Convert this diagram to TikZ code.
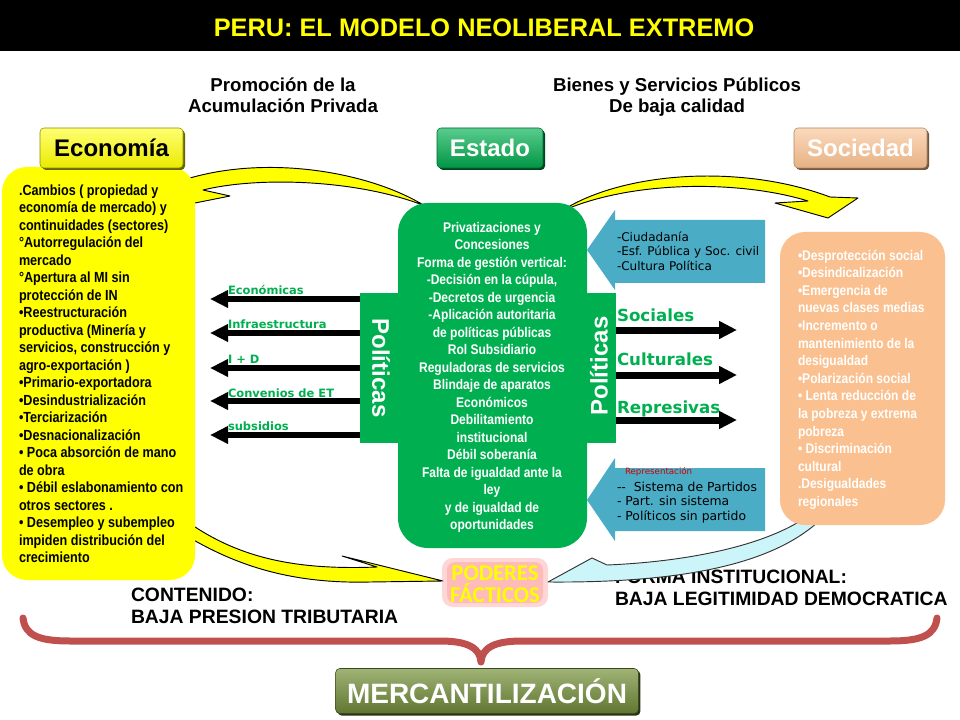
\documentclass[tikz,border=0pt]{standalone}
\usepackage{fontspec}
\setmainfont{Liberation Sans}
\newfontfamily\narrowfont[FakeStretch=0.86]{Liberation Sans}
\newfontfamily\dvfont{DejaVu Sans}
\newfontfamily\carlitofont{Carlito}
\usetikzlibrary{arrows.meta,shadows}
\definecolor{cYel}{RGB}{255,255,0}
\definecolor{cGreen}{RGB}{0,176,80}
\definecolor{cPeach}{RGB}{250,192,143}
\definecolor{cBlue}{RGB}{75,172,198}
\definecolor{cBrace}{RGB}{192,80,77}
\definecolor{cOlive}{RGB}{119,147,60}
\definecolor{cCyan}{RGB}{204,245,250}
\definecolor{cRed}{RGB}{210,0,0}
\tikzset{
  txt/.style={inner sep=0pt, outer sep=0pt},
  head/.style={txt, font=\bfseries\fontsize{14}{16}\selectfont},
  bigtxt/.style={txt, font=\bfseries\fontsize{14.5}{17}\selectfont},
  btn/.style={rounded corners=3pt, inner sep=0pt, minimum height=30pt,
    font=\bfseries\fontsize{18}{20}\selectfont},
  panel/.style={inner sep=0pt, outer sep=0pt},
  curvearrow/.style={fill=cYel, draw=black, line width=0.7pt, line join=round},
  larrow/.style={line width=4.5pt, -{Triangle[length=13.5pt,width=12.5pt]}},
  rarrow/.style={line width=5.25pt, -{Triangle[length=13.5pt,width=12.75pt]}},
  llabel/.style={txt, anchor=base west, text=cGreen, font=\dvfont\bfseries\fontsize{8.6}{10}\selectfont},
  rlabel/.style={txt, anchor=base west, text=cGreen, font=\dvfont\bfseries\fontsize{12.5}{14}\selectfont},
  bluetxt/.style={txt, anchor=base west, font=\dvfont\fontsize{9}{11}\selectfont},
  polit/.style={txt, text=white, font=\bfseries\fontsize{18}{20}\selectfont},
  podtxt/.style={txt, anchor=base, text=cYel, font=\carlitofont\bfseries\fontsize{17}{19}\selectfont},
}
\begin{document}
\begin{tikzpicture}[x=0.75pt,y=-0.75pt]
\useasboundingbox (0,0) rectangle (960,720);
\fill[white] (0,0) rectangle (960,720);
% title bar
\fill[black] (0,0) rectangle (960,51);
\node[txt, anchor=base, text=cYel, font=\bfseries\fontsize{19}{22}\selectfont] (title) at (484,37) {PERU: EL MODELO NEOLIBERAL EXTREMO};
% headings
\node[head, anchor=base] (h1) at (283,92) {Promoción de la};
\node[head, anchor=base] (h2) at (283,113) {Acumulación Privada};
\node[head, anchor=base] (h3) at (677,92) {Bienes y Servicios Públicos};
\node[head, anchor=base] (h4) at (677,113) {De baja calidad};
% curved yellow arrows (behind boxes)
\draw[curvearrow] (425,206) .. controls (370,172) and (270,155) .. (190,178)
   -- (172,184) -- (180,206) -- (230,196) -- (203,190)
   .. controls (260,176) and (360,180) .. (425,206) -- cycle;
\draw[curvearrow] (560,212) .. controls (620,172) and (740,163) .. (830,197)
   -- (858,198) -- (828,218) -- (775,203) -- (808,201)
   .. controls (740,180) and (630,180) .. (560,212) -- cycle;
\draw[curvearrow] (185,520) .. controls (240,560) and (300,570) .. (377,567)
   -- (342,556) -- (443,581) -- (370,582)
   .. controls (290,584) and (235,565) .. (185,535) -- cycle;
% left yellow panel
\node[panel, fill=cYel, rounded corners=18.75pt, minimum width=144.75pt, minimum height=309.75pt] (ecobox) at (98.5,373.5) {};
\node[txt, anchor=north west, align=left, font=\narrowfont\bfseries\fontsize{11}{13.125}\selectfont] (ecotext) at (19,183.25)
{\rule{0pt}{9pt}.Cambios ( propiedad  y\\
economía de mercado) y\\
continuidades (sectores)\\
°Autorregulación del\\
mercado\\
°Apertura al MI sin\\
protección de IN\\
•Reestructuración\\
productiva (Minería y\\
servicios, construcción  y\\
agro-exportación )\\
•Primario-exportadora\\
•Desindustrialización\\
•Terciarización\\
•Desnacionalización\\
• Poca absorción de  mano\\
de obra\\
• Débil eslabonamiento con\\
otros sectores .\\
• Desempleo y subempleo\\
impiden  distribución del\\
crecimiento};
% central green panel with side bars
\node[panel, fill=cGreen, minimum width=30pt, minimum height=112.5pt] (polL) at (380,368) {};
\node[panel, fill=cGreen, minimum width=24pt, minimum height=112.5pt] (polR) at (600,368) {};
\node[panel, fill=cGreen, rounded corners=22.5pt, minimum width=141.75pt, minimum height=258.75pt] (estbox) at (492.5,375.5) {};
\node[txt, anchor=north, align=center, text=white, font=\narrowfont\bfseries\fontsize{10.5}{13.125}\selectfont] (esttext) at (492,220)
{\rule{0pt}{9pt}Privatizaciones y\\
Concesiones\\
Forma de gestión vertical:\\
-Decisión en  la cúpula,\\
-Decretos de urgencia\\
-Aplicación autoritaria\\
de políticas públicas\\
Rol Subsidiario\\
Reguladoras de servicios\\
Blindaje de aparatos\\
Económicos\\
Debilitamiento\\
institucional\\
Débil soberanía\\
Falta de igualdad ante la\\
ley\\
y de igualdad de\\
oportunidades};
\node[polit, rotate=-90] (polLt) at (381,368) {Políticas};
\node[polit, rotate=90] (polRt) at (599,366) {Políticas};
% buttons
\node[btn, minimum width=107.25pt, top color=cYel!55!white, bottom color=cYel!92!black, draw=cYel!55!black, text=black,
  drop shadow={shadow xshift=1.5pt, shadow yshift=-1.5pt, fill=cYel!40!black, opacity=1}] (economia) at (111.5,148) {Economía};
\node[btn, minimum width=79.5pt, top color=cGreen!65!white, bottom color=cGreen!85!black, draw=cGreen!60!black, text=white,
  drop shadow={shadow xshift=1.5pt, shadow yshift=-1.5pt, fill=cGreen!40!black, opacity=1}] (estado) at (490,148) {Estado};
\node[btn, minimum width=99.75pt, top color=cPeach!60!white, bottom color=cPeach!92!black, draw=cPeach!70!black, text=white,
  drop shadow={shadow xshift=1.5pt, shadow yshift=-1.5pt, fill=cPeach!45!black, opacity=1}] (sociedad) at (860.5,148) {Sociedad};
% left arrows
\coordinate (eL1) at (210,299);
\coordinate (eL2) at (210,333);
\coordinate (eL3) at (210,368);
\coordinate (eL4) at (210,401);
\coordinate (eL5) at (210,435);
\foreach \i in {1,...,5} {\draw[larrow] (polL.west |- eL\i) -- (eL\i);}
\node[llabel] (l1) at (228,295) {Económicas};
\node[llabel] (l2) at (228,329) {Infraestructura};
\node[llabel] (l3) at (228,363) {I + D};
\node[llabel] (l4) at (228,397) {Convenios de ET};
\node[llabel] (l5) at (228,430) {subsidios};
% right arrows
\coordinate (eR1) at (737,330);
\coordinate (eR2) at (737,375);
\coordinate (eR3) at (737,420);
\foreach \i in {1,2,3} {\draw[rarrow] (polR.east |- eR\i) -- (eR\i);}
\node[rlabel] (r1) at (617,321) {Sociales};
\node[rlabel] (r2) at (617,365) {Culturales};
\node[rlabel] (r3) at (617,413) {Represivas};
% blue block arrows
\fill[cBlue] (587,250) -- (615,210) -- (615,220) -- (765,220) -- (765,283) -- (615,283) -- (615,290) -- cycle;
\node[bluetxt] (b1) at (617,242) {-Ciudadanía};
\node[bluetxt] (b2) at (617,256) {-Esf. Pública y Soc. civil};
\node[bluetxt] (b3) at (617,271) {-Cultura Política};
\fill[cBlue] (587,500) -- (615,458) -- (615,468) -- (765,468) -- (765,531) -- (615,531) -- (615,541) -- cycle;
\node[bluetxt, text=cRed, font=\dvfont\fontsize{6.5}{8}\selectfont] (b4) at (625,474) {Representación};
\node[bluetxt, font=\dvfont\fontsize{9.3}{11}\selectfont] (b5) at (617,491) {-{}-~ Sistema de Partidos};
\node[bluetxt, font=\dvfont\fontsize{9.3}{11}\selectfont] (b6) at (617,505) {- Part. sin sistema};
\node[bluetxt, font=\dvfont\fontsize{9.3}{11}\selectfont] (b7) at (617,520) {- Políticos sin partido};
% bottom texts
\node[bigtxt, anchor=base west] (c1) at (131,601) {CONTENIDO:};
\node[bigtxt, anchor=base west] (c2) at (131,623) {BAJA PRESION TRIBUTARIA};
\node[bigtxt, anchor=base west] (f1) at (615,583) {FORMA INSTITUCIONAL:};
\node[bigtxt, anchor=base west] (f2) at (615,605) {BAJA LEGITIMIDAD DEMOCRATICA};
% light blue curved arrow
\draw[fill=cCyan, draw=black!80, line width=0.7pt, line join=round]
   (548,582) -- (592,558) -- (607,565) .. controls (680,562) and (760,548) .. (805,518)
   -- (818,522) .. controls (770,565) and (680,583) .. (548,582) -- cycle;
% right peach panel
\node[panel, fill=cPeach, rounded corners=18.75pt, minimum width=123.75pt, minimum height=219.75pt] (socbox) at (862.5,378.5) {};
\node[txt, anchor=north west, align=left, text=white, font=\narrowfont\bfseries\fontsize{10.5}{13.2}\selectfont] (soctext) at (798,248)
{\rule{0pt}{9pt}•Desprotección social\\
•Desindicalización\\
•Emergencia de\\
nuevas clases medias\\
•Incremento  o\\
mantenimiento  de la\\
desigualdad\\
•Polarización social\\
• Lenta reducción de\\
la pobreza y extrema\\
pobreza\\
• Discriminación\\
cultural\\
.Desigualdades\\
regionales};
% poderes facticos
\fill[red!45!white, opacity=0.35, rounded corners=8pt] (442,558) rectangle (548,607);
\fill[red!40!white, opacity=0.45, rounded corners=6pt] (447,562) rectangle (543,603);
\node[podtxt] (pod1) at (495,580) {PODERES};
\node[podtxt] (pod2) at (495,602) {FÁCTICOS};
% brace
\draw[cBrace, line width=5.25pt, line cap=round, line join=round]
  (23,618) .. controls (25,636) and (40,641) .. (70,641) -- (440,641)
  .. controls (468,641) and (480,648) .. (481,662)
  .. controls (482,648) and (494,641) .. (522,641) -- (890,641)
  .. controls (920,641) and (935,636) .. (937,618);
% mercantilizacion button
\node[btn, minimum width=227pt, minimum height=33.75pt, top color=cOlive!70!white, bottom color=cOlive!80!black, draw=cOlive!50!black, text=white,
  font=\bfseries\fontsize{21}{24}\selectfont,
  drop shadow={shadow xshift=1.5pt, shadow yshift=-1.5pt, fill=cOlive!35!black, opacity=1}] (merc) at (487,691) {MERCANTILIZACIÓN};
\end{tikzpicture}
\end{document}
